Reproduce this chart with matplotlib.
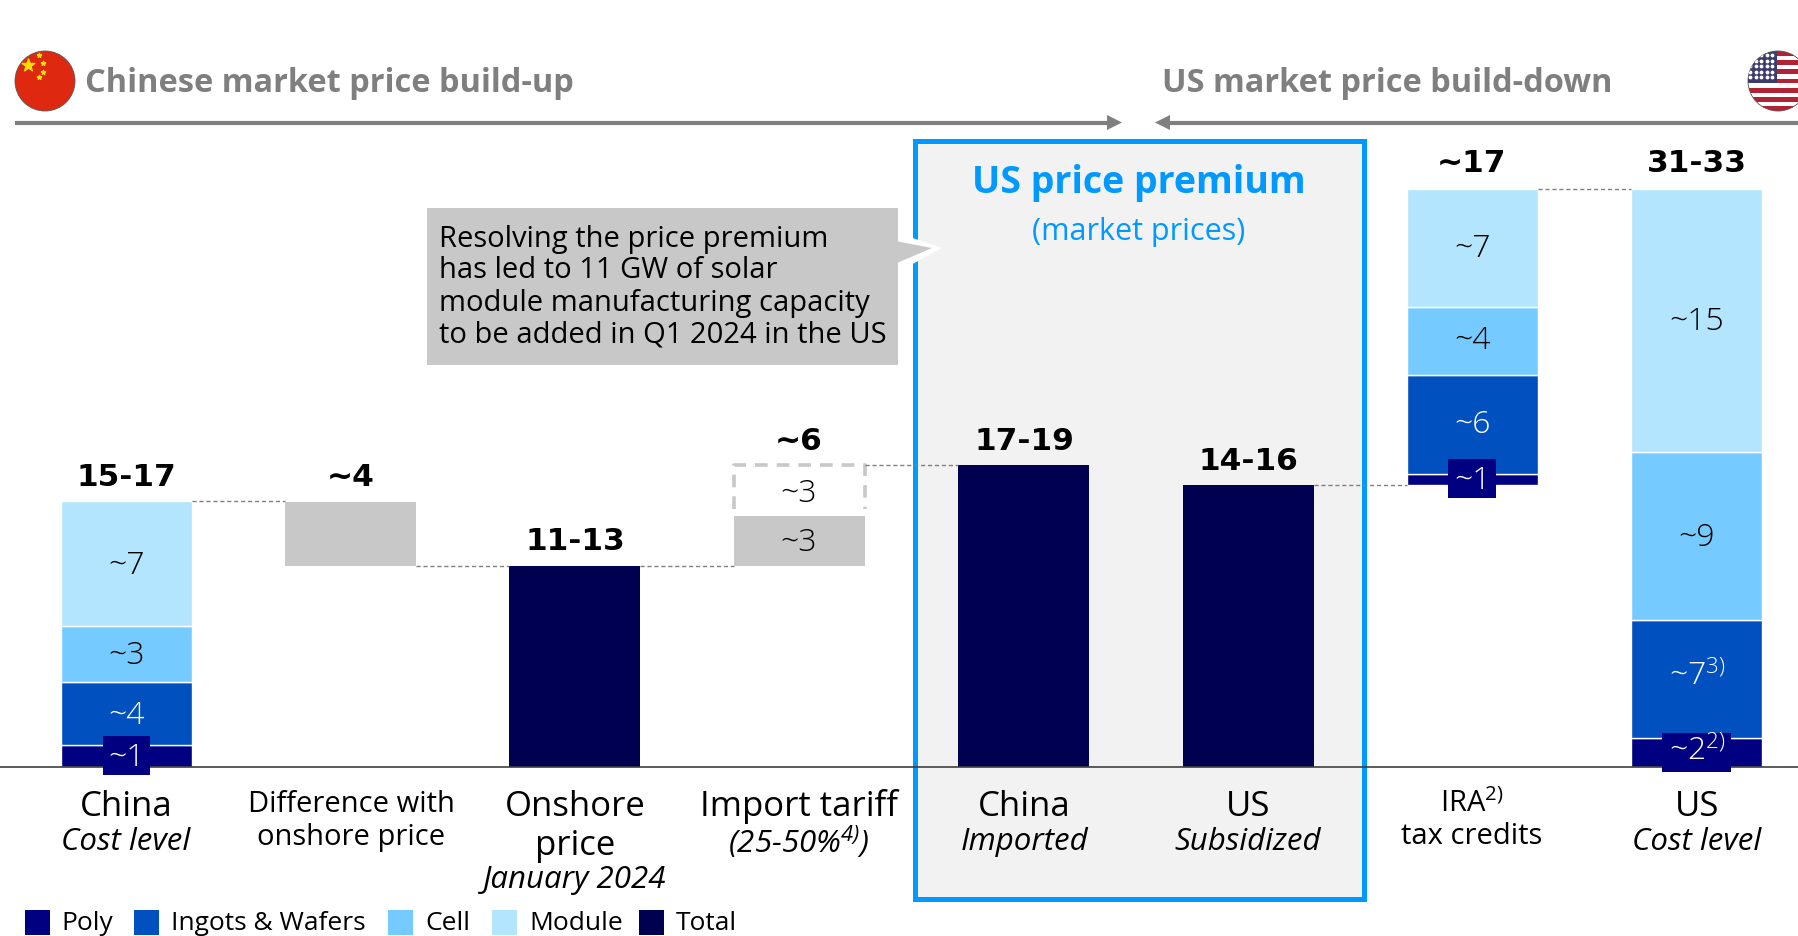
import numpy as np
import matplotlib
matplotlib.use('Agg')
import matplotlib.pyplot as plt
from matplotlib.patches import Rectangle, Polygon, Circle

plt.rcParams['font.family'] = ['Open Sans', 'DejaVu Sans']
plt.rcParams['mathtext.default'] = 'regular'

W, H = 1798, 936
BASE = 766.5
PX_PER_UNIT = 18.06
BAR_W = 131 / 224.4

poly_c = '#000080'
ingot_c = '#0050C0'
cell_c = '#75CBFF'
module_c = '#B3E5FF'
total_c = '#000050'
gray_c = '#C8C8C8'
head_c = '#7F7F7F'
blue_c = '#0099FF'

# stacked bars: position, bottom, poly, ingots, cell, module
stack_pos = [0, 6, 7]
stack_bottom = [0, 15.6, 0]
poly_vals = [1.2, 0.6, 1.6]
ingot_vals = [3.5, 5.5, 6.5]
cell_vals = [3.1, 3.75, 9.3]
module_vals = [6.9, 6.5, 14.6]

total_pos = [2, 4, 5]
total_vals = [11.1, 16.7, 15.6]

diff_bottom, diff_height = 11.1, 3.57
tariff_bottom, tariff_height = 11.1, 2.77
tariff_top = 16.7

top_labels = ['15-17', '~4', '11-13', '~6', '17-19', '14-16', '~17', '31-33']
top_label_y = [478, 478, 542, 441, 441, 461, 164, 164]

legend_names = ['Poly', 'Ingots & Wafers', 'Cell', 'Module', 'Total']
legend_colors = [poly_c, ingot_c, cell_c, module_c, total_c]
legend_sq_x = [25, 134, 388, 492, 639]
legend_txt_x = [61, 171, 425, 529, 676]

fig = plt.figure(figsize=(W / 100, H / 100), dpi=100)
# overlay in pixel coordinates for layout things
ov = fig.add_axes([0, 0, 1, 1], zorder=1)
ov.set_xlim(0, W)
ov.set_ylim(H, 0)
ov.axis('off')
ax = fig.add_axes([0, 0, 1, 1], zorder=2)
ax.patch.set_alpha(0)
ax.set_xlim(-126 / 224.4, (W - 126) / 224.4)
ax.set_ylim(-(H - BASE) / PX_PER_UNIT, BASE / PX_PER_UNIT)
ax.axis('off')
top = fig.add_axes([0, 0, 1, 1], zorder=3)
top.patch.set_alpha(0)
top.set_xlim(0, W)
top.set_ylim(H, 0)
top.axis('off')

# price premium box
ov.add_patch(Rectangle((915, 141), 449, 758, fc='#F2F2F2', ec=blue_c, lw=3.6))

# bars
b = np.array(stack_bottom, dtype=float)
for vals, col in zip([poly_vals, ingot_vals, cell_vals, module_vals],
                     [poly_c, ingot_c, cell_c, module_c]):
    ax.bar(stack_pos, vals, BAR_W, bottom=b, color=col, edgecolor='white', linewidth=1)
    b += np.array(vals)
ax.bar(total_pos, total_vals, BAR_W, color=total_c)
ax.bar([1], [diff_height], BAR_W, bottom=[diff_bottom], color=gray_c)
ax.bar([3], [tariff_height], BAR_W, bottom=[tariff_bottom], color=gray_c)

# dashed upper part of tariff
hw = BAR_W / 2
ax.plot([3 - hw, 3 - hw, 3 + hw, 3 + hw],
        [13.9 + 0.35, tariff_top, tariff_top, 13.9 + 0.35],
        color=gray_c, lw=2.6, ls=(0, (3.5, 2.5)))

# connectors
def conn(x0, x1, y):
    ax.plot([x0 + hw, x1 - hw], [y, y], color='#808080', lw=1, ls=(0, (3, 2)))

conn(0, 1, sum([poly_vals[0], ingot_vals[0], cell_vals[0], module_vals[0]]))
conn(1, 2, 11.1)
conn(2, 3, 11.1)
conn(3, 4, tariff_top)
conn(5, 6, 15.6)
conn(6, 7, 32.0)

# axis line
ax.axhline(0, color='#404040', lw=1.2, zorder=5)

# badges under the small segments
for (x0, y0, x1, y1) in [(103, 736, 150, 775), (1448, 459, 1496, 498), (1662, 733, 1731, 772)]:
    top.add_patch(Rectangle((x0, y0), x1 - x0, y1 - y0, fc=poly_c, ec='none'))

# segment labels: x, y, text, colour
xs = [126, 351, 575, 799, 1024, 1248, 1472, 1697]
seg = [
    (xs[0], 566, '~7', 'black'), (xs[0], 656, '~3', 'black'), (xs[0], 716, '~4', 'white'), (xs[0], 758, '~1', 'white'),
    (xs[3], 494, '~3', 'black'), (xs[3], 543, '~3', 'black'),
    (xs[6], 249, '~7', 'black'), (xs[6], 341, '~4', 'black'), (xs[6], 425, '~6', 'white'), (xs[6], 481, '~1', 'white'),
    (xs[7], 322, '~15', 'black'), (xs[7], 538, '~9', 'black'),
    (xs[7], 677, '~7$^{3)}$', 'white'), (xs[7], 752, '~2$^{2)}$', 'white'),
]
for x, y, s, c in seg:
    top.text(x, y, s, color=c, fontsize=23, ha='center', va='center', fontweight='light')

# totals
for x, y, s in zip(xs, top_label_y, top_labels):
    top.text(x, y, s, fontsize=22.5, fontweight='bold', ha='center', va='center',
             family=['DejaVu Sans', 'Open Sans'])

# category labels
cats = [
    (xs[0], 807, 'China', 25), (xs[1], 805, 'Difference with', 21), (xs[1], 837, 'onshore price', 21),
    (xs[2], 807, 'Onshore', 25), (xs[2], 846, 'price', 25), (xs[3], 807, 'Import tariff', 25),
    (xs[4], 807, 'China', 25), (xs[5], 807, 'US', 25), (xs[6], 804, 'IRA$^{2)}$', 21),
    (xs[6], 837, 'tax credits', 21), (xs[7], 807, 'US', 25),
]
for x, y, s, fs in cats:
    top.text(x, y, s, fontsize=fs, ha='center', va='center')
subs = [
    (xs[0], 842, 'Cost level'), (xs[2], 880, 'January 2024'), (xs[3], 842, '(25-50%$^{4)}$)'),
    (xs[4], 842, 'Imported'), (xs[5], 842, 'Subsidized'), (xs[7], 842, 'Cost level'),
]
for x, y, s in subs:
    top.text(x, y, s, fontsize=22.5, style='italic', ha='center', va='center')

# premium title
top.text(1139, 183, 'US price premium', color=blue_c, fontsize=27, fontweight='bold', ha='center', va='center')
top.text(1139, 232, '(market prices)', color=blue_c, fontsize=22, ha='center', va='center')

# callout
ov.add_patch(Polygon([(898, 233), (942, 248), (898, 272)], fc='white', ec='none', zorder=6))
ov.add_patch(Polygon([(890, 240), (932, 248), (890, 266)], fc=gray_c, ec='none', zorder=7))
ov.add_patch(Rectangle((427, 208), 471, 157, fc=gray_c, ec='none', zorder=7))
callout = ['Resolving the price premium', 'has led to 11 GW of solar',
           'module manufacturing capacity', 'to be added in Q1 2024 in the US']
for i, line in enumerate(callout):
    top.text(439, 239 + i * 32, line, fontsize=21, ha='left', va='center')

# headers and arrows
top.text(85, 84, 'Chinese market price build-up', color=head_c, fontsize=23.4, fontweight='bold', va='center')
top.text(1162, 84, 'US market price build-down', color=head_c, fontsize=23.4, fontweight='bold', va='center')
top.plot([15, 1110], [122.5, 122.5], color=head_c, lw=3, solid_capstyle='butt')
top.add_patch(Polygon([(1107, 115), (1122, 122.5), (1107, 130)], fc=head_c, ec='none'))
top.plot([1168, W], [122.5, 122.5], color=head_c, lw=3, solid_capstyle='butt')
top.add_patch(Polygon([(1170, 115), (1155, 122.5), (1170, 130)], fc=head_c, ec='none'))

# China flag
top.add_patch(Circle((45, 81), 30, fc='#DE2910', ec='#555555', lw=0.6))
top.scatter([28], [65], marker='*', s=90, color='#FFDE00', zorder=5)
top.scatter([39, 43, 43, 39], [55, 63, 72, 77], marker='*', s=10, color='#FFDE00', zorder=5)

# US flag
clip = Circle((1778, 81), 30, transform=top.transData)
for i in range(13):
    r = top.add_patch(Rectangle((1745, 51 + i * 60 / 13), 70, 60 / 13,
                                fc='#B22234' if i % 2 == 0 else 'white', ec='none'))
    r.set_clip_path(clip)
r = top.add_patch(Rectangle((1745, 51), 32, 32, fc='#3C3B6E', ec='none'))
r.set_clip_path(clip)
sx, sy = np.meshgrid(np.arange(1750, 1777, 5.5), np.arange(55, 82, 5.5))
st = top.scatter(sx.ravel(), sy.ravel(), s=3, color='white', zorder=5)
st.set_clip_path(clip)
top.add_patch(Circle((1778, 81), 30, fc='none', ec='#555555', lw=0.6))

# legend
for name, col, sx0, tx in zip(legend_names, legend_colors, legend_sq_x, legend_txt_x):
    top.add_patch(Rectangle((sx0, 910), 25, 25, fc=col, ec='none'))
    top.text(tx, 924, name, fontsize=19, va='center')

top.set_xlim(0, W)
top.set_ylim(H, 0)
fig.savefig('out.png', dpi=100)
